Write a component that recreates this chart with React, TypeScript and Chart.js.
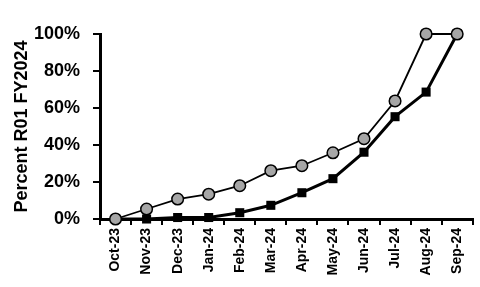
import React, { useEffect, useRef } from "react";
import { Chart, registerables } from "chart.js";

Chart.register(...registerables);

const categories = ["Oct-23", "Nov-23", "Dec-23", "Jan-24", "Feb-24", "Mar-24", "Apr-24", "May-24", "Jun-24", "Jul-24", "Aug-24", "Sep-24"];
const circleSeries = [0, 5.4, 10.8, 13.4, 18.0, 26.1, 28.8, 35.8, 43.4, 63.8, 100, 100];
const squareSeries = [0, 0, 0.8, 0.8, 3.4, 7.4, 14.2, 21.8, 36.1, 55.3, 68.6, 100];
const yTicks = [0, 20, 40, 60, 80, 100];
const yTitle = "Percent R01 FY2024";

const FONT = "'Liberation Sans', Arial, sans-serif";

export default function App() {
  const ref = useRef<HTMLCanvasElement | null>(null);
  useEffect(() => {
    if (!ref.current) return;
    const chart = new Chart(ref.current, {
      type: "line",
      data: {
        labels: categories,
        datasets: [
          {
            label: "circles",
            data: circleSeries,
            borderColor: "#000000",
            borderWidth: 1.8,
            pointStyle: "circle",
            pointRadius: 5.8,
            pointBorderWidth: 1.5,
            pointBackgroundColor: "#a6a6a6",
            pointBorderColor: "#000000",
            tension: 0,
            clip: false as any,
            order: 0,
          },
          {
            label: "squares",
            data: squareSeries,
            borderColor: "#000000",
            borderWidth: 3,
            pointStyle: "rect",
            pointRadius: 6.4,
            pointBorderWidth: 0,
            pointBackgroundColor: "#000000",
            pointBorderColor: "#000000",
            tension: 0,
            clip: false as any,
            order: 1,
          },
        ],
      },
      options: {
        responsive: false,
        animation: false,
        layout: { padding: { top: 34, right: 3, left: 0, bottom: 0 } },
        plugins: { legend: { display: false }, tooltip: { enabled: false } },
        scales: {
          x: {
            type: "category",
            offset: true,
            grid: {
              display: true,
              offset: true,
              drawOnChartArea: false,
              drawTicks: true,
              tickLength: 6,
              color: "#000000",
              lineWidth: 2,
            },
            border: { display: true, color: "#000000", width: 3 },
            ticks: {
              color: "#000000",
              font: { family: FONT, size: 14, weight: "bold" },
              maxRotation: 90,
              minRotation: 90,
              padding: 3,
              autoSkip: false,
            },
            afterFit: (scale: any) => {
              scale.height = 68;
            },
          },
          y: {
            min: 0,
            max: 100,
            afterBuildTicks: (scale: any) => {
              scale.ticks = yTicks.map((v) => ({ value: v }));
            },
            grid: {
              display: true,
              drawOnChartArea: false,
              drawTicks: true,
              tickLength: 7,
              color: "#000000",
              lineWidth: 2,
            },
            border: { display: true, color: "#000000", width: 3 },
            ticks: {
              color: "#000000",
              font: { family: FONT, size: 18, weight: "bold" },
              padding: 13,
              callback: (v: any) => v + "%",
            },
            title: {
              display: true,
              text: yTitle,
              color: "#000000",
              font: { family: FONT, size: 18, weight: "bold" },
              padding: { top: 11, bottom: 0 },
            },
            afterFit: (scale: any) => {
              scale.width = 100;
            },
          },
        },
      },
    });
    return () => chart.destroy();
  }, []);
  return (
    <div style={{ position: "fixed", left: 0, top: 0, width: 480, height: 287, background: "#ffffff" }}>
      <canvas ref={ref} width={480} height={287} style={{ display: "block" }} />
    </div>
  );
}
